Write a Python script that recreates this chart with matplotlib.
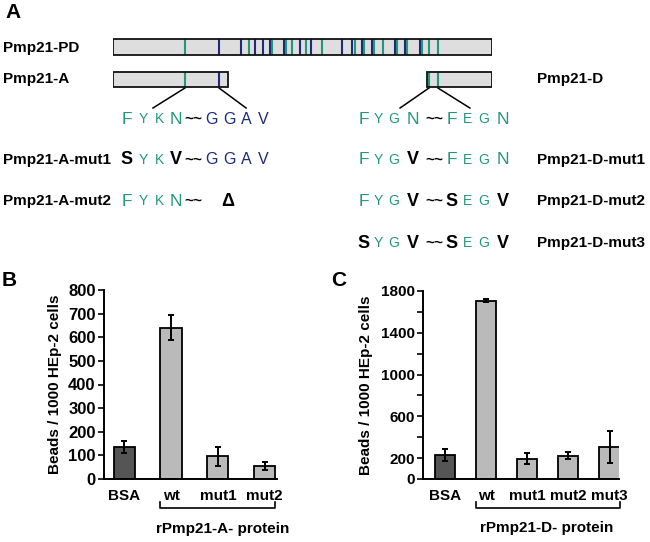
import matplotlib
matplotlib.use('Agg')
import matplotlib.pyplot as plt
import numpy as np

plt.rcParams['font.family'] = ['Liberation Sans', 'DejaVu Sans']

GREEN = '#22987a'
NAVY = '#1f2a7c'
DARK = '#555555'
LIGHT = '#bababa'

# ---- panel A: protein map (residue coordinates) ----
pmp21_len = 1612
frag_a = (0, 489)
frag_d = (1335, 1612)
green_motifs = [306, 578, 676, 736, 761, 821, 889, 1029, 1067, 1110, 1148,
                1208, 1250, 1314, 1344, 1382]
blue_motifs = [451, 544, 604, 638, 668, 727, 795, 842, 974, 1016, 1059,
               1102, 1199, 1242, 1306]

# sequences: letters and style codes
# G = green large, g = green small, B = navy, K = black bold, t = tilde, D = deletion
seq_a_wt = ('FYKN~GGAV', 'GggGtBBBB')
seq_a_mut1 = ('SYKV~GGAV', 'KggKtBBBB')
seq_a_mut2 = ('FYKN~ Δ', 'GggGt D')
seq_d_wt = ('FYGN~FEGN', 'GggGtGggG')
seq_d_mut1 = ('FYGV~FEGN', 'GggKtGggG')
seq_d_mut2 = ('FYGV~SEGV', 'GggKtKggK')
seq_d_mut3 = ('SYGV~SEGV', 'KggKtKggK')

# ---- panel B ----
b_labels = ['BSA', 'wt', 'mut1', 'mut2']
b_values = [135, 640, 97, 55]
b_err = [27, 53, 40, 17]

# ---- panel C ----
c_labels = ['BSA', 'wt', 'mut1', 'mut2', 'mut3']
c_values = [228, 1708, 196, 223, 305]
c_err = [60, 18, 50, 35, 155]

fig = plt.figure(figsize=(6.5, 5.42), dpi=100)

# overlay in pixel coordinates for panel A text
ov = fig.add_axes([0, 0, 1, 1])
ov.set_xlim(0, 650)
ov.set_ylim(542, 0)
ov.axis('off')

for letter, x, y in [('A', 5, 13), ('B', 2, 281), ('C', 331, 281)]:
    ov.text(x, y, letter, fontsize=15, fontweight='bold', ha='left', va='center')

name_style = dict(fontsize=11, fontweight='bold', ha='left', va='center')
ov.text(3, 48, 'Pmp21-PD', **name_style)
ov.text(3, 79, 'Pmp21-A', **name_style)
ov.text(537, 79, 'Pmp21-D', **name_style)
ov.text(3, 160, 'Pmp21-A-mut1', **name_style)
ov.text(3, 201, 'Pmp21-A-mut2', **name_style)
ov.text(537, 160, 'Pmp21-D-mut1', **name_style)
ov.text(537, 201, 'Pmp21-D-mut2', **name_style)
ov.text(537, 243, 'Pmp21-D-mut3', **name_style)

styles = {
    'G': dict(color=GREEN, fontsize=12.5, fontweight='normal'),
    'g': dict(color=GREEN, fontsize=10, fontweight='normal'),
    'B': dict(color=NAVY, fontsize=11.5, fontweight='normal'),
    'K': dict(color='black', fontsize=13, fontweight='bold'),
    't': dict(color='black', fontsize=11, fontweight='bold'),
    'D': dict(color='black', fontsize=13, fontweight='bold'),
}
left_offsets = [0, 16, 33, 49, 66, 85, 102, 119, 136]
right_offsets = [0, 14, 30, 49, 70, 88, 104, 120, 139]


def draw_seq(seq, x0, y, offsets):
    letters, codes = seq
    for i, (ch, code) in enumerate(zip(letters, codes)):
        if code == ' ':
            continue
        if ch == '~':
            ch = '~~'
        dx = offsets[i] if code != 'D' else 101
        ov.text(x0 + dx, y, ch, ha='center', va='center', **styles[code])


draw_seq(seq_a_wt, 127, 119, left_offsets)
draw_seq(seq_a_mut1, 127, 160, left_offsets)
draw_seq(seq_a_mut2, 127, 201, left_offsets)
draw_seq(seq_d_wt, 364, 119, right_offsets)
draw_seq(seq_d_mut1, 364, 160, right_offsets)
draw_seq(seq_d_mut2, 364, 201, right_offsets)
draw_seq(seq_d_mut3, 364, 243, right_offsets)

# protein bars
dom = fig.add_axes([113 / 650, 1 - 95 / 542, (492 - 113) / 650, 65 / 542])
dom.set_xlim(0, pmp21_len)
dom.set_ylim(95, 30)
dom.axis('off')
dom.patch.set_alpha(0)

rows = [((0, pmp21_len), 47), (frag_a, 79.5), (frag_d, 79.5)]
for (start, end), yc in rows:
    h = 16 if yc == 47 else 15
    dom.barh(yc, end - start, left=start, height=h, color='#dedede', zorder=1)
    for m in green_motifs:
        if start <= m <= end:
            dom.vlines(m, yc - h / 2, yc + h / 2, color=GREEN, lw=1.5, zorder=2)
    for m in blue_motifs:
        if start <= m <= end:
            dom.vlines(m, yc - h / 2, yc + h / 2, color=NAVY, lw=1.5, zorder=2)
    dom.barh(yc, end - start, left=start, height=h, fill=False,
             edgecolor='#111111', lw=1.3, zorder=3)

# lines from motifs to sequences
dom.plot([green_motifs[0], 170], [88, 108], color='black', lw=1.1, clip_on=False)
dom.plot([blue_motifs[0], 566], [88, 108], color='black', lw=1.1, clip_on=False)
dom.plot([green_motifs[-2], 1221], [88, 108], color='black', lw=1.1, clip_on=False)
dom.plot([green_motifs[-1], 1518], [88, 108], color='black', lw=1.1, clip_on=False)


def bar_panel(ax, labels, values, err, width, xlim, ylim, yticks, ylabels,
              tick_fs, bracket_y, text_x, text):
    x = np.arange(len(labels))
    colors = [DARK] + [LIGHT] * (len(labels) - 1)
    ax.bar(x, values, width=width, color=colors, edgecolor='black', lw=1.3, zorder=2)
    ax.errorbar(x, values, yerr=err, fmt='none', ecolor='black', elinewidth=1.4,
                capsize=2.5, capthick=1.4, zorder=3)
    ax.set_xlim(*xlim)
    ax.set_ylim(*ylim)
    ax.set_yticks(yticks)
    ax.set_yticklabels(ylabels, fontsize=tick_fs, fontweight='bold')
    ax.set_xticks(x)
    ax.set_xticklabels(labels, fontsize=11, fontweight='bold')
    ax.tick_params(axis='x', length=0, pad=7)
    ax.tick_params(axis='y', length=4, width=1.2, pad=2)
    for s in ['top', 'right']:
        ax.spines[s].set_visible(False)
    for s in ['left', 'bottom']:
        ax.spines[s].set_linewidth(1.4)
    ax.set_ylabel('Beads / 1000 HEp-2 cells', fontsize=11, fontweight='bold')
    ax.patch.set_alpha(0)
    # bracket under the recombinant proteins
    trans = ax.get_xaxis_transform()
    x0 = 1 - width / 2
    x1 = x[-1] + width / 2
    ax.plot([x0, x0, x1, x1], [bracket_y + 0.028, bracket_y, bracket_y, bracket_y + 0.028],
            color='black', lw=1.2, transform=trans, clip_on=False)
    ax.text(text_x, bracket_y - 0.11, text, transform=trans, ha='center', va='center',
            fontsize=11, fontweight='bold')


axB = fig.add_axes([104 / 650, 63 / 542, 173 / 650, 189 / 542])
bar_panel(axB, b_labels, b_values, b_err, 0.45, (-0.43, 3.26), (0, 800),
          np.arange(0, 801, 100), [str(v) for v in range(0, 801, 100)], 12,
          -0.152, 2.1, 'rPmp21-A- protein')
axB.yaxis.set_label_coords(-0.245, 0.5)

axC = fig.add_axes([423 / 650, 63 / 542, 196 / 650, 188 / 542])
c_ticks = np.arange(0, 1801, 200)
c_ticklabels = [str(v) if v in (0, 200, 600, 1000, 1400, 1800) else '' for v in c_ticks]
bar_panel(axC, c_labels, c_values, c_err, 0.49, (-0.535, 4.23), (0, 1800),
          c_ticks, c_ticklabels, 11, -0.152, 2.48, 'rPmp21-D- protein')
axC.yaxis.set_label_coords(-0.255, 0.5)

fig.savefig('out.png', dpi=100)
